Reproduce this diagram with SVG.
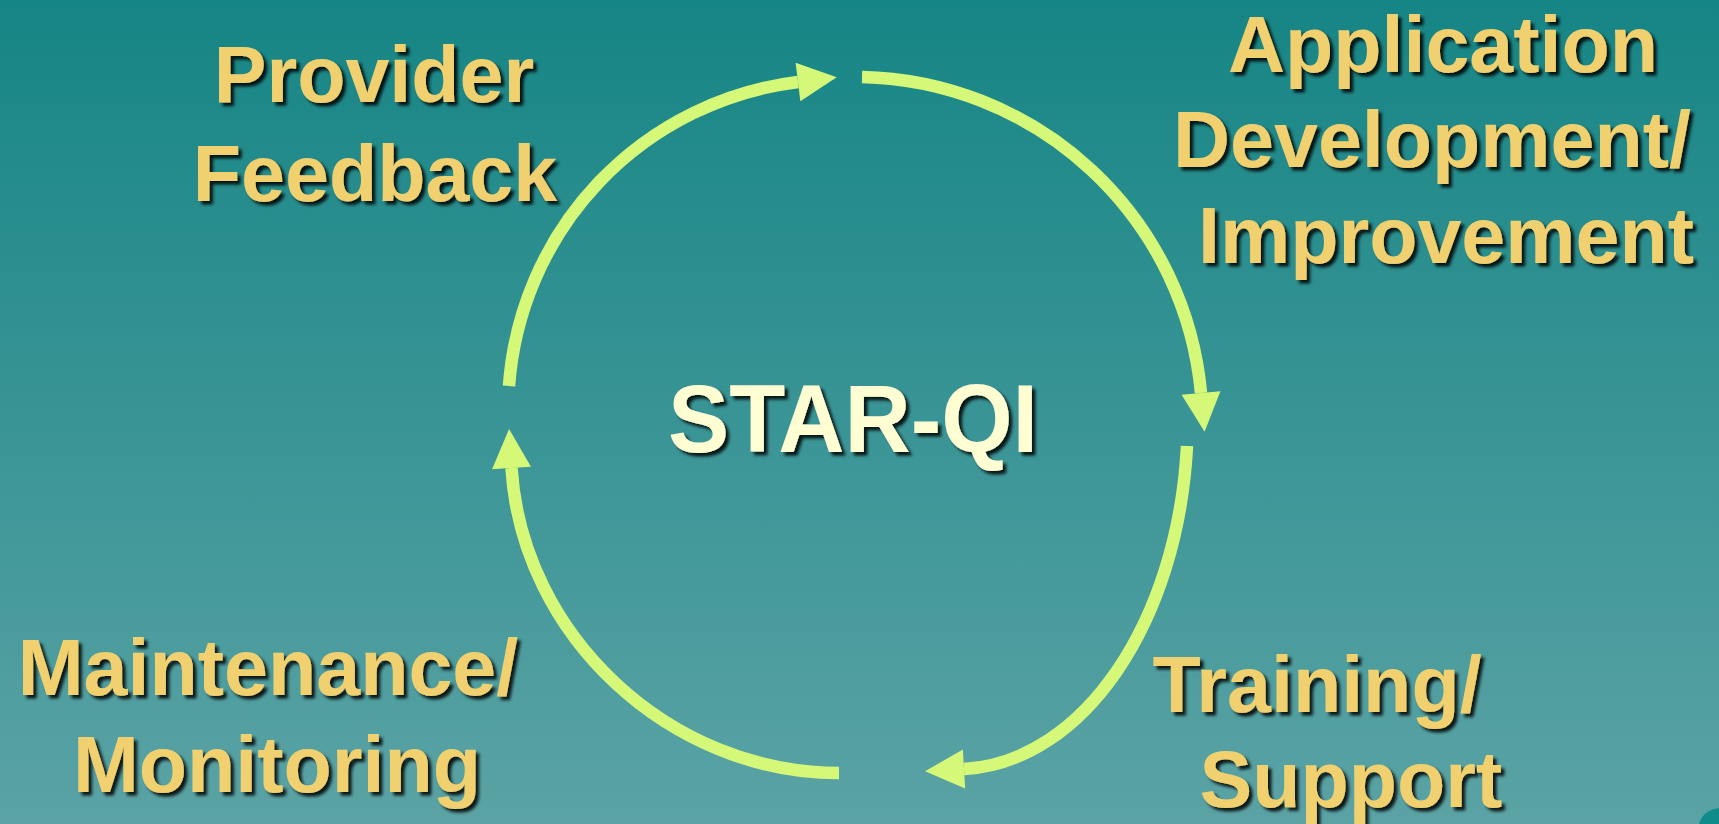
<svg xmlns="http://www.w3.org/2000/svg" width="1719" height="824" viewBox="0 0 1719 824">
  <defs>
    <linearGradient id="bg" x1="0" y1="0" x2="0" y2="1">
      <stop offset="0" stop-color="#168585"/>
      <stop offset="1" stop-color="#5BA3A5"/>
    </linearGradient>
    <filter id="shadow" x="-10%" y="-10%" width="120%" height="130%">
      <feDropShadow dx="3.5" dy="3.5" stdDeviation="1.6" flood-color="#000000" flood-opacity="0.85"/>
    </filter>
    <marker id="ah" markerUnits="userSpaceOnUse" viewBox="0 0 39 39" markerWidth="39" markerHeight="39" refX="0" refY="19.5" orient="auto" overflow="visible">
      <path d="M0,0 L39,19.5 L0,39 Z" fill="#D5F878"/>
    </marker>
  </defs>
  <style>
    .lbl { font-family: "Liberation Sans", Arial, sans-serif; font-weight: bold; font-size: 79px; fill: #F1D06F; text-anchor: middle; filter: url(#shadow); }
    .title { font-family: "Liberation Sans", Arial, sans-serif; font-weight: bold; font-size: 97px; fill: #FFFDD2; text-anchor: middle; filter: url(#shadow); }
    .arc { fill: none; stroke: #D5F878; stroke-width: 12.5; marker-end: url(#ah); }
  </style>

  <rect x="0" y="0" width="1719" height="824" fill="url(#bg)"/>
  <path d="M1699,824 Q1703,810 1719,808 L1719,824 Z" fill="#0E8C8C"/>

  <g id="connectors">
    <path class="arc" d="M509,386 A330,330 0 0 1 798,82"/>
    <path class="arc" d="M862,77 A348,348 0 0 1 1201,393"/>
    <path class="arc" d="M1187,446 C1178,620 1085,762 964,769"/>
    <path class="arc" d="M839,773 C670,773 522,636 511.5,468"/>
  </g>

  <g id="center">
    <text class="title" x="853" y="452" textLength="370" lengthAdjust="spacingAndGlyphs">STAR-QI</text>
  </g>

  <g id="provider-feedback">
    <text class="lbl" x="374" y="102">Provider</text>
    <text class="lbl" x="375" y="201">Feedback</text>
  </g>

  <g id="application-development">
    <text class="lbl" x="1443" y="72">Application</text>
    <text class="lbl" x="1432" y="167">Development/</text>
    <text class="lbl" x="1446" y="263">Improvement</text>
  </g>

  <g id="training-support">
    <text class="lbl" x="1317" y="712">Training/</text>
    <text class="lbl" x="1351" y="807">Support</text>
  </g>

  <g id="maintenance-monitoring">
    <text class="lbl" x="268" y="695">Maintenance/</text>
    <text class="lbl" x="277" y="792">Monitoring</text>
  </g>
</svg>
